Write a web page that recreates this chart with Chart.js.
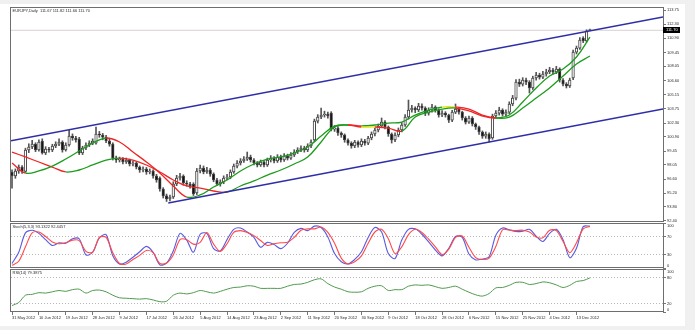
<!DOCTYPE html>
<html>
<head>
<meta charset="utf-8">
<title>EURJPY Daily</title>
<script src="https://cdn.jsdelivr.net/npm/chart.js@4.4.1/dist/chart.umd.min.js"></script>
<style>
  html, body { margin: 0; padding: 0; background: #f0f0f0; width: 695px; height: 330px; overflow: hidden; }
  #win { position: absolute; left: 0; top: 4px; width: 685px; height: 322px; background: #fff; }
  canvas { position: absolute; left: 0; }
</style>
</head>
<body>
<div id="win"></div>
<canvas id="chart-main" width="695" height="230" style="top:0"></canvas>
<canvas id="chart-stoch" width="695" height="59" style="top:216px"></canvas>
<canvas id="chart-rsi" width="695" height="64" style="top:262px"></canvas>
<script>
/* EURJPY daily: candles + two slope-coloured MAs + channel, Stoch(5,3,3), RSI(14).
 * Three stacked Chart.js instances sharing one linear bar-index x range.
 */

// ── Data ─────────────────────────────────────────────

const SYMBOL = 'EURJPY,Daily';

// bar 0 = 31 May 2012, one bar per trading day (Sun-Fri)
const opens = [
    97.34, 96.93, 97.44, 97.84, 97.40, 99.57, 99.87, 100.17, 99.57, 100.48,
    99.26, 99.67, 99.57, 99.97, 100.17, 100.38, 99.57, 100.07, 100.98, 100.78,
    100.68, 99.26, 99.77, 100.07, 100.27, 100.27, 101.19, 101.09, 100.88, 100.48,
    100.17, 98.75, 98.55, 98.65, 98.35, 98.55, 98.15, 98.25, 97.84, 97.54,
    97.64, 97.34, 97.44, 96.93, 96.73, 95.61, 94.92, 94.60, 94.80, 96.12,
    96.73, 96.93, 96.22, 96.12, 96.12, 95.21, 97.44, 97.74, 97.34, 97.54,
    97.13, 96.53, 96.12, 96.32, 96.73, 96.83, 97.34, 97.94, 98.25, 98.45,
    98.65, 98.86, 98.55, 98.25, 98.05, 98.35, 98.05, 98.55, 98.75, 98.45,
    98.86, 98.55, 98.96, 98.75, 99.06, 99.36, 99.57, 99.77, 99.57, 99.97,
    100.58, 102.50, 102.91, 103.11, 103.21, 103.31, 101.69, 101.79, 101.29, 101.09,
    100.58, 100.27, 99.97, 100.38, 100.07, 100.48, 100.27, 100.78, 101.19, 101.59,
    102.00, 102.40, 101.90, 101.19, 100.58, 101.09, 101.59, 102.10, 102.91, 103.62,
    103.82, 103.62, 104.02, 103.82, 103.31, 103.62, 103.92, 103.62, 103.11, 103.31,
    103.11, 102.60, 103.41, 103.72, 103.41, 102.81, 102.40, 102.81, 102.20, 101.90,
    101.39, 100.98, 101.19, 100.78, 103.01, 103.31, 103.62, 103.21, 103.41, 104.23,
    104.83, 106.45, 106.25, 106.66, 106.45, 105.85, 106.86, 107.16, 106.96, 107.27,
    107.47, 107.67, 107.47, 107.77, 106.66, 106.25, 106.05, 106.86, 109.49, 109.90,
    110.91, 110.61, 111.67
];
const highs = [
    97.55, 97.65, 98.05, 98.00, 99.75, 100.20, 100.55, 100.30, 100.60, 100.70,
    99.90, 99.85, 100.15, 100.40, 100.70, 100.50, 100.30, 101.59, 101.20, 100.95,
    100.85, 99.95, 100.30, 100.50, 100.70, 101.90, 101.45, 101.25, 101.05, 100.65,
    100.30, 98.95, 98.85, 98.80, 98.75, 98.65, 98.45, 98.35, 97.95, 97.85,
    97.80, 97.65, 97.55, 97.10, 96.85, 95.75, 95.10, 95.00, 96.35, 97.00,
    97.20, 97.05, 96.45, 96.30, 96.25, 97.70, 98.05, 97.95, 97.80, 97.70,
    97.25, 96.70, 96.55, 96.95, 97.10, 97.55, 98.15, 98.50, 98.70, 98.90,
    99.36, 99.05, 98.70, 98.40, 98.55, 98.50, 98.75, 99.00, 98.90, 99.10,
    99.05, 99.20, 99.15, 99.30, 99.60, 99.80, 100.00, 99.95, 100.20, 100.60,
    102.70, 103.15, 103.82, 103.50, 103.40, 103.45, 102.05, 101.95, 101.40, 101.20,
    100.70, 100.40, 100.55, 100.50, 100.70, 100.65, 100.95, 101.40, 101.80, 102.20,
    102.81, 102.55, 102.00, 101.30, 101.30, 101.80, 102.35, 103.15, 104.63, 104.10,
    103.95, 104.30, 104.25, 103.95, 103.85, 104.20, 104.05, 103.75, 103.55, 103.45,
    103.20, 103.60, 104.23, 103.85, 103.50, 102.95, 103.00, 102.95, 102.30, 102.00,
    101.50, 101.40, 101.30, 103.20, 103.55, 103.90, 103.75, 103.65, 104.45, 105.10,
    106.70, 106.75, 106.90, 106.85, 106.60, 107.05, 107.45, 107.35, 107.55, 107.75,
    107.95, 107.85, 108.05, 107.90, 106.80, 106.40, 106.85, 109.70, 110.10, 110.95,
    111.05, 111.75, 111.82
];
const lows = [
    95.70, 96.70, 97.20, 97.20, 97.30, 99.30, 99.70, 99.40, 99.45, 99.15,
    99.10, 99.35, 99.40, 99.80, 100.00, 99.35, 99.45, 99.95, 100.55, 100.35,
    99.10, 99.10, 99.60, 99.90, 100.10, 100.15, 100.85, 100.60, 100.30, 99.95,
    98.55, 98.30, 98.35, 98.15, 98.20, 97.95, 97.95, 97.65, 97.30, 97.35,
    97.10, 97.15, 96.70, 96.30, 95.40, 94.70, 94.35, 94.40, 94.65, 95.95,
    96.50, 96.00, 95.90, 95.70, 94.95, 95.05, 97.25, 97.15, 97.20, 96.90,
    96.35, 95.95, 95.90, 96.15, 96.55, 96.65, 97.20, 97.75, 98.05, 98.30,
    98.50, 98.35, 98.05, 97.85, 97.90, 97.85, 97.90, 98.35, 98.25, 98.30,
    98.35, 98.40, 98.55, 98.60, 98.90, 99.20, 99.40, 99.35, 99.40, 99.80,
    100.40, 102.30, 102.75, 102.90, 102.80, 101.50, 101.45, 101.05, 100.85, 100.35,
    100.05, 99.75, 99.80, 99.85, 99.90, 100.05, 100.10, 100.60, 101.00, 101.40,
    101.85, 101.70, 100.95, 100.27, 100.40, 100.90, 101.40, 101.95, 102.70, 103.40,
    103.35, 103.45, 103.60, 103.05, 103.10, 103.40, 103.40, 102.90, 102.95, 102.90,
    102.35, 102.45, 103.25, 103.20, 102.60, 102.20, 102.25, 102.00, 101.65, 101.15,
    100.75, 100.75, 100.38, 100.65, 102.85, 103.10, 103.00, 103.05, 103.25, 104.05,
    104.65, 106.00, 106.05, 106.20, 105.34, 105.70, 106.65, 106.75, 106.80, 107.05,
    107.30, 107.25, 107.30, 106.45, 106.05, 105.85, 105.90, 106.70, 109.30, 109.75,
    110.45, 110.50, 111.66
];
const closes = [
    96.93, 97.44, 97.84, 97.40, 99.57, 99.87, 100.17, 99.57, 100.38, 99.26,
    99.67, 99.57, 99.97, 100.17, 100.38, 99.57, 100.07, 100.98, 100.78, 100.58,
    99.26, 99.77, 100.07, 100.27, 100.48, 101.19, 101.09, 100.88, 100.48, 100.17,
    98.75, 98.55, 98.65, 98.35, 98.55, 98.15, 98.25, 97.84, 97.54, 97.64,
    97.34, 97.44, 96.93, 96.53, 95.61, 94.92, 94.60, 94.80, 96.12, 96.73,
    96.93, 96.22, 96.12, 95.92, 95.11, 97.44, 97.74, 97.34, 97.54, 97.13,
    96.53, 96.12, 96.32, 96.73, 96.83, 97.34, 97.94, 98.25, 98.45, 98.65,
    98.86, 98.55, 98.25, 98.05, 98.35, 98.05, 98.55, 98.75, 98.45, 98.86,
    98.55, 98.96, 98.75, 99.06, 99.36, 99.57, 99.77, 99.57, 99.97, 100.38,
    102.50, 102.91, 103.11, 103.21, 103.01, 101.69, 101.79, 101.29, 101.09, 100.58,
    100.27, 99.97, 100.38, 100.07, 100.48, 100.27, 100.78, 101.19, 101.59, 102.00,
    102.40, 101.90, 101.19, 100.58, 101.09, 101.59, 102.10, 102.91, 103.62, 103.82,
    103.62, 104.02, 103.82, 103.31, 103.62, 103.92, 103.62, 103.11, 103.31, 103.11,
    102.60, 103.41, 103.72, 103.41, 102.81, 102.40, 102.81, 102.20, 101.90, 101.39,
    100.98, 101.19, 100.68, 103.01, 103.31, 103.62, 103.21, 103.41, 104.23, 104.83,
    106.45, 106.25, 106.66, 106.45, 105.85, 106.86, 107.16, 106.96, 107.27, 107.47,
    107.67, 107.47, 107.77, 106.66, 106.25, 106.05, 106.66, 109.49, 109.90, 110.71,
    110.61, 111.62, 111.70
];

// moving averages, one value every MA_STEP bars
const MA_STEP = 4;
const maFast = [
    98.25, 97.23, 97.44, 97.94, 98.65, 99.46, 100.27, 100.78, 100.38, 99.36,
    98.35, 97.23, 95.92, 94.80, 95.01, 95.82, 96.53, 97.44, 98.15, 98.65,
    98.86, 99.26, 99.87, 100.98, 101.99, 102.10, 101.90, 101.90, 101.79, 101.49,
    102.91, 103.41, 103.72, 103.82, 103.52, 103.01, 102.81, 103.11, 104.43, 105.85,
    107.06, 107.77, 108.99, 111.01
];
const maSlow = [
    99.36, 98.86, 98.35, 97.84, 97.34, 97.54, 98.05, 98.55, 98.75, 98.55,
    98.05, 97.34, 96.53, 95.92, 95.71, 95.41, 95.31, 95.92, 96.43, 97.03,
    97.54, 98.15, 98.86, 100.38, 101.90, 102.10, 102.00, 102.10, 102.30, 102.40,
    103.11, 103.62, 103.92, 103.92, 103.72, 103.11, 102.81, 102.91, 103.82, 104.83,
    105.85, 107.06, 108.28, 109.09
];

// trend channel (bar index, price)
const channelUpperX = [-0.3, 193.75];
const channelUpperY = [100.50, 113.04];
const channelLowerX = [46.5, 193.75];
const channelLowerY = [94.19, 103.72];

// oscillators, one value every OSC_STEP bars
const OSC_STEP = 2;
const stochMain = [
    10, 35, 78, 84, 77, 63, 50, 56, 55, 65,
    65, 29, 35, 67, 74, 27, 9, 13, 24, 36,
    48, 35, 7, 11, 38, 77, 62, 35, 75, 77,
    43, 38, 63, 86, 89, 80, 68, 46, 57, 52,
    43, 55, 79, 88, 83, 93, 90, 69, 32, 14,
    9, 19, 36, 68, 90, 80, 32, 21, 62, 86,
    87, 75, 58, 40, 27, 44, 70, 68, 31, 18,
    20, 25, 73, 89, 85, 81, 82, 86, 71, 59,
    77, 86, 63, 23, 44, 92, 93.1322
];
const stochSignal = [
    6, 15, 47, 78, 80, 70, 58, 54, 56, 62,
    61, 37, 35, 68, 68, 34, 10, 9, 19, 28,
    39, 34, 10, 11, 29, 63, 63, 53, 57, 79,
    53, 37, 54, 79, 83, 79, 72, 61, 50, 54,
    56, 57, 68, 84, 87, 87, 91, 79, 55, 22,
    9, 14, 27, 55, 80, 86, 65, 32, 47, 74,
    86, 79, 64, 47, 30, 42, 68, 71, 46, 23,
    19, 22, 48, 85, 84, 83, 84, 80, 69, 67,
    84, 83, 59, 34, 56, 87, 92.4457
];
const rsi = [
    15, 22, 39, 41, 45, 44, 47, 50, 48, 52,
    53, 44, 50, 51, 47, 39, 33, 32, 31, 30,
    31, 28, 24, 25, 39, 44, 42, 45, 50, 47,
    44, 48, 53, 57, 58, 61, 60, 55, 55, 55,
    55, 60, 64, 65, 69, 75, 77, 66, 58, 53,
    47, 46, 47, 55, 60, 61, 50, 52, 52, 60,
    63, 62, 63, 59, 55, 57, 60, 53, 46, 40,
    37, 43, 56, 57, 62, 69, 69, 64, 66, 70,
    68, 63, 57, 62, 71, 73, 79.3875
];

// axis labels
const priceTicks = [113.75, 112.30, 110.90, 109.45, 108.05, 106.60, 105.15, 103.75,
    102.30, 100.90, 99.45, 98.05, 96.60, 95.20, 93.80, 92.40];
const stochTicks = [100, 70, 30, 0];
const stochLevels = [70, 30];
const rsiTicks = [100, 80, 20, 0];
const rsiLevels = [80, 20];
const LABEL_EVERY = 8;
const dateLabels = ['31 May 2012', '10 Jun 2012', '19 Jun 2012', '28 Jun 2012', '9 Jul 2012',
    '17 Jul 2012', '26 Jul 2012', '5 Aug 2012', '14 Aug 2012', '23 Aug 2012', '2 Sep 2012',
    '11 Sep 2012', '20 Sep 2012', '30 Sep 2012', '9 Oct 2012', '18 Oct 2012', '28 Oct 2012',
    '6 Nov 2012', '15 Nov 2012', '25 Nov 2012', '4 Dec 2012', '13 Dec 2012'];

// ── Look ─────────────────────────────────────────────

const COLORS = {
    up: '#1c9c1c',
    down: '#f02424',
    flat: '#e3e300',
    channel: '#2e2ea8',
    stochMain: '#5a5ae0',
    stochSignal: '#ff4a4a',
    rsi: '#4f9a4f',
    text: '#2a2a2a',
    frame: '#6e6e6e',
    tick: '#777777',
    level: '#b8b8b8',
    lastLine: '#d8d0d0',
    wick: '#555555',
    body: '#444444',
};
const FONT = '"Liberation Sans", Arial, sans-serif';
const X_MIN = -0.3, X_MAX = 193.75;
const Y_MIN = 92.27, Y_MAX = 114.06;

Chart.defaults.font.family = FONT;
Chart.defaults.font.size = 4;
Chart.defaults.color = COLORS.text;
Chart.defaults.animation = false;

const pts = (arr, step) => arr.map((v, i) => ({ x: i * step, y: v }));
const last = arr => arr[arr.length - 1];

// red falling, green rising, yellow when flat
const slopeColor = ctx => {
    const d = ctx.p1.parsed.y - ctx.p0.parsed.y;
    return d > 0.08 ? COLORS.up : d < -0.08 ? COLORS.down : COLORS.flat;
};

// ── Scales ───────────────────────────────────────────

function xScale(show) {
    return {
        type: 'linear', min: X_MIN, max: X_MAX, display: show, offset: false,
        afterBuildTicks: s => { s.ticks = dateLabels.map((_, i) => ({ value: i * LABEL_EVERY })); },
        afterFit: s => { if (show) s.height = 14; },
        ticks: { autoSkip: false, maxRotation: 0, align: 'start', padding: 0,
                 callback: (v, i) => dateLabels[i] },
        grid: { drawOnChartArea: false, offset: false, tickLength: 3, color: COLORS.tick },
        border: { display: false },
    };
}

function yScale(min, max, tickVals, fmt, levels) {
    return {
        type: 'linear', position: 'right', min, max,
        afterBuildTicks: s => { s.ticks = tickVals.map(v => ({ value: v })); },
        afterFit: s => { s.width = 32; },
        ticks: { autoSkip: false, padding: 1, callback: fmt },
        grid: {
            drawOnChartArea: levels.length > 0,
            color: ctx => levels.includes(ctx.tick && ctx.tick.value) ? COLORS.level : 'rgba(0,0,0,0)',
            tickColor: COLORS.tick, tickLength: 3,
            borderDash: [1, 2], tickBorderDash: [],
        },
        border: { display: false, dash: [1, 2] },
    };
}

// 100 / 0 labels sit inside the pane, like the terminal does
const oscLabel = v => v === 100 ? ['', '100'] : v === 0 ? ['0', ''] : String(v);

// ── Plugins ──────────────────────────────────────────

function paneDeco(title) {
    return {
        id: 'paneDeco',
        afterDraw(chart) {
            const { ctx, chartArea: a } = chart;
            ctx.save();
            ctx.strokeStyle = COLORS.frame;
            ctx.lineWidth = 1;
            ctx.strokeRect(a.left - 0.5, a.top + 0.5, a.right - a.left + 1, a.bottom - a.top - 1);
            ctx.fillStyle = COLORS.text;
            ctx.font = '4px ' + FONT;
            ctx.textBaseline = 'middle';
            ctx.fillText(title, a.left + 1.5, a.top + 3.5);
            ctx.restore();
        }
    };
}

const priceBadge = {
    id: 'priceBadge',
    afterDraw(chart) {
        const { ctx, chartArea: a, scales: { y } } = chart;
        const py = Math.round(y.getPixelForValue(last(closes)));
        ctx.save();
        ctx.fillStyle = '#000';
        ctx.fillRect(a.right, py - 3, 17, 6);
        ctx.fillStyle = '#fff';
        ctx.font = '4px ' + FONT;
        ctx.textBaseline = 'middle';
        ctx.fillText(last(closes).toFixed(2), a.right + 3, py);
        ctx.restore();
    }
};

const baseOptions = (padding) => ({
    responsive: false,
    devicePixelRatio: 1,
    layout: { padding },
    plugins: { legend: { display: false }, tooltip: { enabled: false } },
});

// ── Main pane ────────────────────────────────────────

const mainTitle = SYMBOL + '  ' + [last(opens), last(highs), last(lows), last(closes)]
    .map(v => v.toFixed(2)).join(' ');

new Chart(document.getElementById('chart-main'), {
    type: 'bar',
    data: {
        datasets: [
            {   // current price line
                type: 'line', order: 5,
                data: [{ x: X_MIN, y: last(closes) }, { x: X_MAX, y: last(closes) }],
                borderColor: COLORS.lastLine, borderWidth: 1, pointRadius: 0,
            },
            {   // wicks
                type: 'bar', order: 4, grouped: false,
                data: closes.map((c, i) => ({ x: i, y: [lows[i], highs[i]] })),
                backgroundColor: COLORS.wick, barThickness: 1, borderWidth: 0,
            },
            {   // bodies
                type: 'bar', order: 3, grouped: false,
                data: closes.map((c, i) => ({ x: i, y: [opens[i], c] })),
                backgroundColor: ctx => (ctx.dataIndex == null || closes[ctx.dataIndex] >= opens[ctx.dataIndex]) ? '#ffffff' : '#111111',
                borderColor: COLORS.body, borderWidth: 1, borderSkipped: false,
                barThickness: 2.6, minBarLength: 1,
            },
            {
                type: 'line', order: 2, data: pts(maSlow, MA_STEP),
                borderColor: COLORS.up, segment: { borderColor: slopeColor },
                borderWidth: 1.3, pointRadius: 0, tension: 0.4,
            },
            {
                type: 'line', order: 1, data: pts(maFast, MA_STEP),
                borderColor: COLORS.up, segment: { borderColor: slopeColor },
                borderWidth: 1.3, pointRadius: 0, tension: 0.4,
            },
            {
                type: 'line', order: 0,
                data: channelUpperX.map((x, i) => ({ x, y: channelUpperY[i] })),
                borderColor: COLORS.channel, borderWidth: 1.5, pointRadius: 0,
            },
            {
                type: 'line', order: 0,
                data: channelLowerX.map((x, i) => ({ x, y: channelLowerY[i] })),
                borderColor: COLORS.channel, borderWidth: 1.5, pointRadius: 0,
            },
        ]
    },
    options: {
        ...baseOptions({ left: 11, top: 7, bottom: 8, right: 0 }),
        scales: {
            x: xScale(false),
            y: yScale(Y_MIN, Y_MAX, priceTicks, v => v.toFixed(2), []),
        }
    },
    plugins: [paneDeco(mainTitle), priceBadge]
});

// ── Stochastic pane ──────────────────────────────────

new Chart(document.getElementById('chart-stoch'), {
    type: 'line',
    data: {
        datasets: [
            { data: pts(stochSignal, OSC_STEP), order: 0, borderColor: COLORS.stochSignal,
              borderWidth: 1.1, pointRadius: 0, tension: 0.3 },
            { data: pts(stochMain, OSC_STEP), order: 1, borderColor: COLORS.stochMain,
              borderWidth: 1.1, pointRadius: 0, tension: 0.3 },
        ]
    },
    options: {
        ...baseOptions({ left: 11, top: 7, bottom: 7, right: 0 }),
        scales: {
            x: xScale(false),
            y: yScale(0, 100, stochTicks, oscLabel, stochLevels),
        }
    },
    plugins: [paneDeco('Stoch(5,3,3) ' + last(stochMain).toFixed(4) + ' ' + last(stochSignal).toFixed(4))]
});

// ── RSI pane ─────────────────────────────────────────

new Chart(document.getElementById('chart-rsi'), {
    type: 'line',
    data: {
        datasets: [
            { data: pts(rsi, OSC_STEP), borderColor: COLORS.rsi,
              borderWidth: 1, pointRadius: 0, tension: 0.3 },
        ]
    },
    options: {
        ...baseOptions({ left: 11, top: 7, bottom: 0, right: 0 }),
        scales: {
            x: xScale(true),
            y: yScale(0, 100, rsiTicks, oscLabel, rsiLevels),
        }
    },
    plugins: [paneDeco('RSI(14) ' + last(rsi).toFixed(4))]
});
</script>
</body>
</html>
